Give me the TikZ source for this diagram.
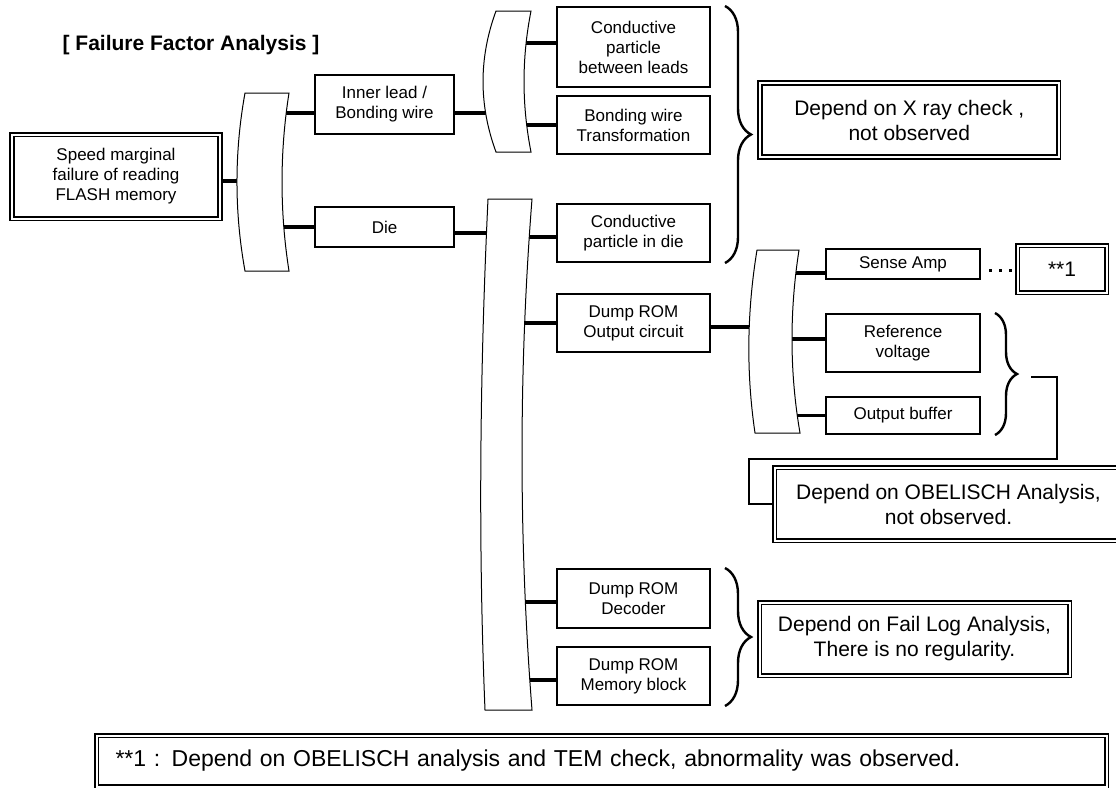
\documentclass[tikz,border=0pt]{standalone}
\usepackage{fontspec}
\setmainfont{Liberation Sans}
\usetikzlibrary{decorations.pathreplacing}
\tikzset{
  box/.style={draw,line width=2pt,align=center,inner sep=0pt,font=\fontsize{17}{20}\selectfont},
  dbox/.style={draw,double,line width=1.6pt,double distance=2pt,align=center,inner sep=0pt,font=\fontsize{21}{25}\selectfont},
  conn/.style={line width=3.6pt},
  crescent/.style={draw,line width=1pt,fill=white},
  curly/.style={line width=2.4pt,decorate,decoration={brace,amplitude=#1}},
  curly/.default=26pt,
  link/.style={line width=1.8pt}
}
\begin{document}
\begin{tikzpicture}[x=1pt,y=-1pt]
\useasboundingbox (0,0) rectangle (1116,787);
\clip (0,0) rectangle (1116,787);

\node[font=\fontsize{21}{24}\selectfont\bfseries] (title) at (191,45) {[ Failure Factor Analysis ]};

% first level
\node[dbox,font=\fontsize{17}{20}\selectfont,minimum width=208pt,minimum height=84pt] (root) at (116,176.5) {Speed marginal\\failure of reading\\FLASH memory};
\node[box,minimum width=139pt,minimum height=59pt] (ilead) at (384.5,104.5) {Inner lead /\\Bonding wire};
\node[box,minimum width=139pt,minimum height=40pt] (die) at (384.5,227) {Die};

% second level
\node[box,minimum width=153pt,minimum height=80pt] (cpl) at (633.5,47) {Conductive\\particle\\between leads};
\node[box,minimum width=153pt,minimum height=58pt] (bwt) at (633.5,125) {Bonding wire\\Transformation};
\node[box,minimum width=153pt,minimum height=58pt] (cpd) at (633.5,233) {Conductive\\particle in die};
\node[box,minimum width=153pt,minimum height=58pt] (dout) at (633.5,323) {Dump ROM\\Output circuit};
\node[box,minimum width=153pt,minimum height=59pt] (ddec) at (633.5,598.5) {Dump ROM\\Decoder};
\node[box,minimum width=153pt,minimum height=58pt] (dmem) at (633.5,676) {Dump ROM\\Memory block};

% third level
\node[box,minimum width=154pt,minimum height=30pt] (samp) at (903,264) {\raisebox{-3pt}{Sense Amp}};
\node[box,minimum width=154pt,minimum height=58pt] (refv) at (903,343) {Reference\\voltage};
\node[box,minimum width=154pt,minimum height=37pt] (obuf) at (903,415.5) {Output buffer};

% results
\node[dbox,minimum width=298.5pt,minimum height=74pt] (xray) at (909.25,120) {Depend on X ray check ,\\not observed};
\node[dbox,line width=1.9pt,font=\fontsize{21}{24}\selectfont,minimum width=89pt,minimum height=47pt] (note1) at (1062,269) {**1};
\node[dbox,minimum width=348pt,minimum height=73pt] (obel) at (948.5,504) {Depend on OBELISCH Analysis,\\not observed.};
\node[dbox,minimum width=310pt,minimum height=73pt] (flog) at (914.5,639) {Depend on Fail Log Analysis,\\There is no regularity.};
\node[dbox,font=\fontsize{23}{27}\selectfont,minimum width=1010pt,minimum height=51pt,text width=972pt,align=left] (bnote) at (601.5,761) {**1 : Depend on OBELISCH analysis and TEM check, abnormality was observed.};

\coordinate (b1) at (262,182);
\coordinate (b2) at (507,80);
\coordinate (b3) at (505,455);
\coordinate (b4) at (775,341);

\draw[conn] ([yshift=-4.5pt]root.east) -- ([yshift=-4.5pt]root.east -| b1);
\draw[conn] ([yshift=-8.5pt]ilead.west) -- ([yshift=-8.5pt]ilead.west -| b1);
\draw[conn] (die.west) -- (die.west -| b1);
\draw[conn] ([yshift=-8.5pt]ilead.east) -- ([yshift=-8.5pt]ilead.east -| b2);
\draw[conn] ([yshift=-6pt]die.east) -- ([yshift=-6pt]die.east -| b3);
\draw[conn] ([yshift=4pt]cpl.west) -- ([yshift=4pt]cpl.west -| b2);
\draw[conn] (bwt.west) -- (bwt.west -| b2);
\draw[conn] ([yshift=-4pt]cpd.west) -- ([yshift=-4pt]cpd.west -| b3);
\draw[conn] (dout.west) -- (dout.west -| b3);
\draw[conn] ([yshift=-3.5pt]ddec.west) -- ([yshift=-3.5pt]ddec.west -| b3);
\draw[conn] ([yshift=-4pt]dmem.west) -- ([yshift=-4pt]dmem.west -| b3);
\draw[conn] ([yshift=-4pt]dout.east) -- ([yshift=-4pt]dout.east -| b4);
\draw[conn] ([yshift=-9pt]samp.west) -- ([yshift=-9pt]samp.west -| b4);
\draw[conn] ([yshift=4pt]refv.west) -- ([yshift=4pt]refv.west -| b4);
\draw[conn] (obuf.west) -- (obuf.west -| b4);

% brackets
\draw[crescent] (245,93) -- (289,93) .. controls (279.7,152) and (279.7,212) .. (289,271) -- (245,271) .. controls (234.3,212) and (234.3,152) .. cycle;
\draw[crescent] (496,11) -- (531,11) .. controls (521.7,58) and (521.7,105) .. (531,152) -- (496,152) .. controls (478.7,105) and (478.7,58) .. cycle;
\draw[crescent] (488,199) -- (532,199) .. controls (518.7,369) and (518.7,540) .. (532,710) -- (485,710) .. controls (478,540) and (480,369) .. cycle;
\draw[crescent] (757,250) -- (799,250) .. controls (789.5,311) and (789.5,372) .. (800,433) -- (755,433) .. controls (746,372) and (747,311) .. cycle;

% braces
\draw[curly] ([xshift=14pt]cpl.north east) -- ([xshift=14pt]cpd.south east);
\draw[curly=22pt] ([xshift=14pt]refv.north east) -- ([xshift=14pt]obuf.south east);
\draw[curly] ([xshift=14pt]ddec.north east) -- ([xshift=14pt]dmem.south east);

\draw[line width=3pt,dash pattern=on 3pt off 7pt] ([xshift=8pt,yshift=-6pt]samp.east) -- ([yshift=-6pt]samp.east -| note1.west);

\coordinate (k1) at (1031,377);
\coordinate (k2) at (749,459);
\draw[link] (k1) -- ++(26,0) |- (k2) |- (obel.west);
\end{tikzpicture}
\end{document}
